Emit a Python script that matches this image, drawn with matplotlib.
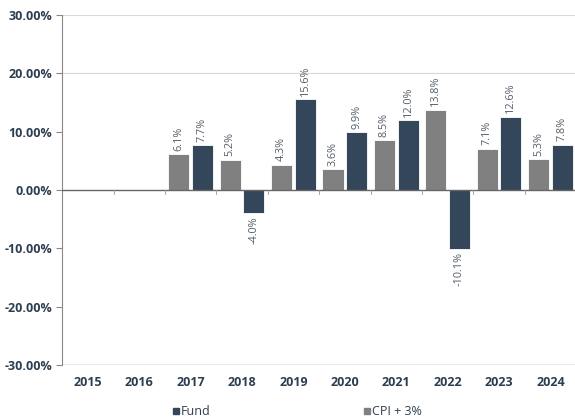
import matplotlib.pyplot as plt
import numpy as np
from matplotlib.lines import Line2D

plt.rcParams['font.family'] = ['Open Sans', 'DejaVu Sans']

years = ['2015', '2016', '2017', '2018', '2019', '2020', '2021', '2022', '2023', '2024']
fund = [np.nan, np.nan, 7.7, -4.0, 15.6, 9.9, 12.0, -10.1, 12.6, 7.8]
cpi = [np.nan, np.nan, 6.1, 5.2, 4.3, 3.6, 8.5, 13.8, 7.1, 5.3]

fund_col = '#34465a'
cpi_col = '#808080'
text_col = '#2d3e50'

fig = plt.figure(figsize=(5.75, 4.19), dpi=100)
ax = fig.add_axes([0.108, 0.129, 0.894, 0.835])

x = np.arange(len(years))
w = 0.41
off = 0.23
ax.bar(x - off, cpi, w, color=cpi_col, edgecolor='white', linewidth=0.6, zorder=3)
ax.bar(x + off, fund, w, color=fund_col, edgecolor='white', linewidth=0.6, zorder=3)

for xs, vals in ((x - off, cpi), (x + off, fund)):
    for xi, v in zip(xs, vals):
        if np.isnan(v):
            continue
        if v >= 0:
            ax.text(xi, v + 0.6, f'{v:.1f}%', rotation=90, ha='center', va='bottom',
                    fontsize=7.8, color='#555e68')
        else:
            ax.text(xi, v - 0.6, f'{v:.1f}%', rotation=90, ha='center', va='top',
                    fontsize=7.8, color='#555e68')

ax.set_xlim(-0.5, len(years) - 0.5)
ax.set_ylim(-30, 30)
ax.set_yticks(np.arange(-30, 31, 10))
ax.set_yticklabels([f'{v:.2f}%' for v in np.arange(-30, 31, 10)])
# only a few horizontal guide lines in the original
for g in (30, 20):
    ax.axhline(g, color='#d9d9d9', linewidth=0.8, zorder=0)
ax.axhline(-30, color='#e6e6e6', linewidth=2.0, zorder=0)
ax.axhline(0, color='#666666', linewidth=1.0, zorder=4)

# category ticks on the zero line
for b in np.arange(0.5, len(years) - 0.5, 1):
    ax.plot([b, b], [0, -0.6], color='#999999', linewidth=0.6, zorder=4)

ax.set_xticks(x)
ax.set_xticklabels(years)
ax.tick_params(axis='x', length=0, pad=8)
ax.tick_params(axis='y', length=4, color='#888888', pad=3)
for lab in ax.get_xticklabels() + ax.get_yticklabels():
    lab.set_fontweight('bold')
    lab.set_color(text_col)
    lab.set_fontsize(9)

for s in ['top', 'right', 'bottom']:
    ax.spines[s].set_visible(False)
ax.spines['left'].set_color('#888888')

handles = [Line2D([], [], marker='s', linestyle='', color=fund_col, markersize=5),
           Line2D([], [], marker='s', linestyle='', color=cpi_col, markersize=5)]
fig.legend(handles, ['Fund', 'CPI + 3%'], loc='lower left', bbox_to_anchor=(0.28, -0.025),
           ncol=2, frameon=False, handlelength=0.6, handletextpad=0.1,
           columnspacing=12.2, prop={'size': 9}, labelcolor=text_col)

fig.savefig('out.png', dpi=100)
